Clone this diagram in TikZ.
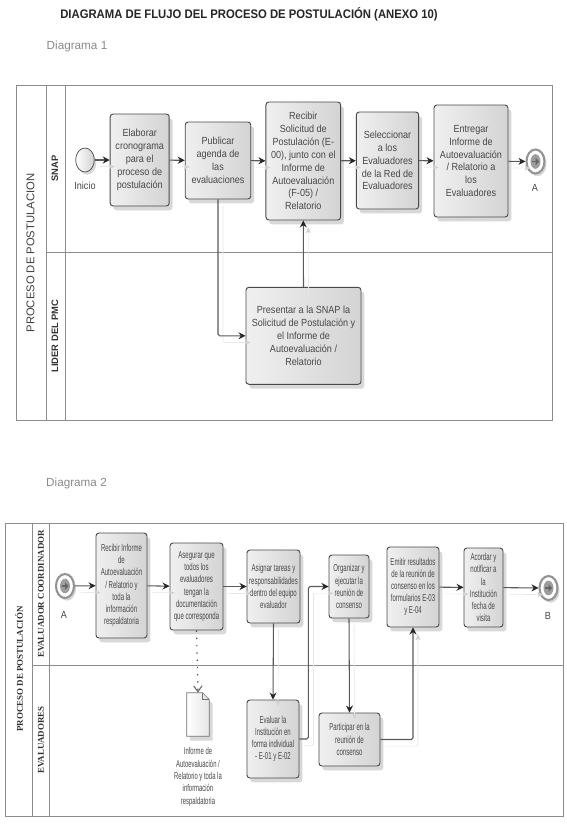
\documentclass[tikz,border=0pt]{standalone}
\usepackage{fontspec}
\setmainfont{Liberation Sans}
\newfontfamily\taskfont[FakeStretch=0.88]{Liberation Sans}
\newfontfamily\tasknarrow[FakeStretch=0.6]{Liberation Sans}
\newfontfamily\titlefont[FakeStretch=0.91]{Liberation Sans}
\newfontfamily\lanefont{Liberation Serif}
\usetikzlibrary{arrows.meta,shadows,shapes.geometric}
\definecolor{lanegray}{HTML}{8C8C8C}
\definecolor{edgegray}{HTML}{4A4A4A}
\definecolor{linkgray}{HTML}{5A5A5A}
\definecolor{inkgray}{HTML}{484848}
\definecolor{softgray}{HTML}{8A8A8A}
\tikzset{
  boxsize/.style 2 args={minimum width=#1*0.03cm,minimum height=#2*0.03cm},
  taskbox/.style={draw=edgegray,line width=0.8pt,rounded corners=2.5pt,align=center,
    inner sep=0pt,text=inkgray,left color=black!6,right color=black!17,
    drop shadow={shadow xshift=0.1cm,shadow yshift=-0.13cm,fill=black!30,opacity=0.5}},
  taskone/.style={taskbox,font=\taskfont\fontsize{8.8}{11}\selectfont},
  tasktwo/.style={taskbox,font=\tasknarrow\fontsize{8.6}{10.4}\selectfont},
  startevent/.style={ellipse,draw=edgegray,line width=0.6pt,minimum width=0.56cm,minimum height=0.72cm,
    inner sep=0pt,left color=white,right color=black!18,
    drop shadow={shadow xshift=0.06cm,shadow yshift=-0.08cm,fill=black!30,opacity=0.5}},
  endevent/.style={ellipse,draw=black!42,line width=1.8pt,minimum width=0.54cm,minimum height=0.72cm,
    inner sep=0pt,fill=white,
    drop shadow={shadow xshift=0.06cm,shadow yshift=-0.08cm,fill=black!30,opacity=0.5}},
  endcore/.style={ellipse,fill=black!38,minimum width=0.3cm,minimum height=0.44cm,inner sep=0pt},
  endmark/.style={draw=black!60,line width=1.2pt,-{Triangle[length=3pt,width=6pt]}},
  eventlabel/.style={text=inkgray,font=\taskfont\fontsize{8.8}{10.9}\selectfont},
  flow/.style={draw=linkgray,line width=0.9pt,rounded corners=1.5pt,
    -{Stealth[length=6pt,width=6pt,inset=2pt,color=black!85]},
    preaction={draw=black!9,line width=0.5pt,-{Stealth[length=5pt,width=4pt,inset=1pt,color=black!18]},
      transform canvas={shift={(0.15cm,-0.2cm)}}}},
  doclink/.style={draw=black!70,line width=1pt,dash pattern=on 1.2pt off 5pt,-{Straight Barb[length=5pt,width=7pt,color=black!55]}},
  lane/.style={draw=lanegray,line width=0.8pt},
  lanetitle/.style={rotate=90,text=black!80,font=\bfseries\fontsize{8}{9}\selectfont},
  lanetwo/.style={rotate=90,text=black!80,font=\lanefont\bfseries\fontsize{7.6}{9}\selectfont},
}
\begin{document}
\begin{tikzpicture}[x=0.03cm,y=-0.03cm]
\useasboundingbox (0,0) rectangle (567,826);
\fill[white] (0,0) rectangle (567,826);
% cabecera
\node[font=\titlefont\bfseries\fontsize{10.6}{12}\selectfont,text=black!85] (titulo) at (249,14) {DIAGRAMA DE FLUJO DEL PROCESO DE POSTULACIÓN (ANEXO 10)};
\node[font=\fontsize{10}{12}\selectfont,text=softgray,anchor=west,inner sep=0pt] (diagUno) at (46.5,46) {Diagrama 1};
\node[font=\fontsize{10}{12}\selectfont,text=softgray,anchor=west,inner sep=0pt] (diagDos) at (46,483) {Diagrama 2};

% diagrama 1
\draw[lane] (16,85) rectangle (552.7,420.5);
\draw[lane] (46.7,85) -- (46.7,420.5);
\draw[lane] (65,85) -- (65,420.5);
\draw[lane] (46.7,252) -- (552.7,252);
\node[rotate=90,text=black!75,font=\fontsize{9.6}{10}\selectfont] (poolUno) at (30.5,253) {PROCESO DE POSTULACION};
\node[lanetitle] (laneSnap) at (55,168.5) {SNAP};
\node[lanetitle] (laneLider) at (55,336) {LIDER DEL PMC};

\node[startevent] (inicio) at (85,160) {};
\node[eventlabel] (inicioText) at (85,186) {Inicio};
\node[taskone,boxsize={59}{92}] (cronograma) at (139.7,160) {Elaborar\\cronograma\\para el\\proceso de\\postulación};
\node[taskone,boxsize={65.5}{77}] (agenda) at (218,160.5) {Publicar\\agenda de\\las\\evaluaciones};
\node[taskone,boxsize={74.7}{118}] (recibir) at (303.3,161) {Recibir\\Solicitud de\\Postulación (E-\\00), junto con el\\Informe de\\Autoevaluación\\(F-05) /\\Relatorio};
\node[taskone,boxsize={62.4}{97}] (seleccionar) at (387.5,160.5) {Seleccionar\\a los\\Evaluadores\\de la Red de\\Evaluadores};
\node[taskone,boxsize={74}{112}] (entregar) at (471,161) {Entregar\\Informe de\\Autoevaluación\\/ Relatorio a\\los\\Evaluadores};
\node[endevent] (finA) at (535.5,161.5) {};
\node[endcore] at (finA) {};
\node[eventlabel] (finAText) at (535,188) {A};
\node[taskone,boxsize={115}{97}] (presentar) at (303.5,335.8) {Presentar a la SNAP la\\Solicitud de Postulación y\\el Informe de\\Autoevaluación /\\Relatorio};

\draw[flow] (inicio) -- (cronograma);
\draw[flow] (cronograma) -- (agenda);
\draw[flow] (agenda) -- (recibir);
\draw[flow] (recibir) -- (seleccionar);
\draw[flow] (seleccionar) -- (entregar);
\draw[flow] (entregar) -- (finA);
\draw[flow] (agenda.south) |- (presentar.west);
\draw[flow] (presentar.north) -- (recibir.south);

% diagrama 2
\draw[lane] (5.5,523) rectangle (563,816);
\draw[lane] (32,523) -- (32,816);
\draw[lane] (49,523) -- (49,816);
\draw[lane] (32,665) -- (563,665);
\node[lanetwo] (poolDos) at (19,669) {PROCESO DE POSTULACIÓN};
\node[lanetwo] (laneCoord) at (41,594) {EVALUADOR COORDINADOR};
\node[lanetwo] (laneEval) at (41,740) {EVALUADORES};

\node[endevent] (inicioA) at (65,586) {};
\node[endcore] at (inicioA) {};
\node[eventlabel] (inicioAText) at (64,615) {A};
\node[tasktwo,boxsize={51}{105}] (informe) at (121.5,585.5) {Recibir Informe\\de\\Autoevaluación\\/ Relatorio y\\toda la\\información\\respaldatoria};
\node[tasktwo,boxsize={53}{87}] (asegurar) at (196.5,586.5) {Asegurar que\\todos los\\evaluadores\\tengan la\\documentación\\que corresponda};
\node[tasktwo,boxsize={53}{73}] (asignar) at (273.5,586.5) {Asignar tareas y\\responsabilidades\\dentro del equipo\\evaluador};
\node[tasktwo,boxsize={40}{63}] (organizar) at (349,586.5) {Organizar y\\ejecutar la\\reunión de\\consenso};
\node[tasktwo,boxsize={52}{80}] (emitir) at (413,587) {Emitir resultados\\de la reunión de\\consenso en los\\formularios E-03\\y E-04};
\node[tasktwo,boxsize={39}{79}] (acordar) at (483.5,587.5) {Acordar y\\notificar a\\la\\Institución\\fecha de\\visita};
\node[endevent] (finB) at (548.5,588) {};
\node[endcore] at (finB) {};
\node[eventlabel] (finBText) at (548,616) {B};
\node[tasktwo,boxsize={52}{78}] (evaluar) at (273,739) {Evaluar la\\Institución en\\forma individual\\- E-01 y E-02};
\node[tasktwo,boxsize={61}{53}] (participar) at (349.5,739.5) {Participar en la\\reunión de\\consenso};

\foreach \evento in {finA,inicioA,finB}
  \draw[endmark] ([xshift=-0.1cm]\evento.center) -- ([xshift=0.11cm]\evento.center);

% documento
\node[boxsize={22}{43},inner sep=0pt] (documento) at (198,714.5) {};
\draw[line width=0.5pt,draw=black!55,left color=white,right color=black!10,
  drop shadow={shadow xshift=0.1cm,shadow yshift=-0.13cm,fill=black!30,opacity=0.5}]
  (documento.south west) -- (documento.north west) -- ([xshift=-0.2cm]documento.north east)
  -- ([yshift=-0.2cm]documento.north east) -- (documento.south east) -- cycle;
\draw[line width=0.5pt,draw=black!55] ([xshift=-0.2cm]documento.north east) |- ([yshift=-0.2cm]documento.north east);
\node[text=inkgray,align=center,font=\tasknarrow\fontsize{8.4}{10.6}\selectfont] (documentoText) at (198,777) {Informe de\\Autoevaluación /\\Relatorio y toda la\\información\\respaldatoria};

\draw[flow] (inicioA) -- (informe);
\draw[flow] (informe) -- (asegurar);
\draw[flow] (asegurar) -- (asignar);
\draw[doclink] (asegurar.south) -- (documento.north);
\draw[flow] (asignar.south) -- (evaluar.north);
\draw[flow] (evaluar.east) -- ++(9,0) |- (organizar.west);
\draw[flow] (organizar.south) -- (participar.north);
\draw[flow] (participar.east) -| (emitir.south);
\draw[flow] (emitir) -- (acordar);
\draw[flow] (acordar) -- (finB);
\end{tikzpicture}
\end{document}
